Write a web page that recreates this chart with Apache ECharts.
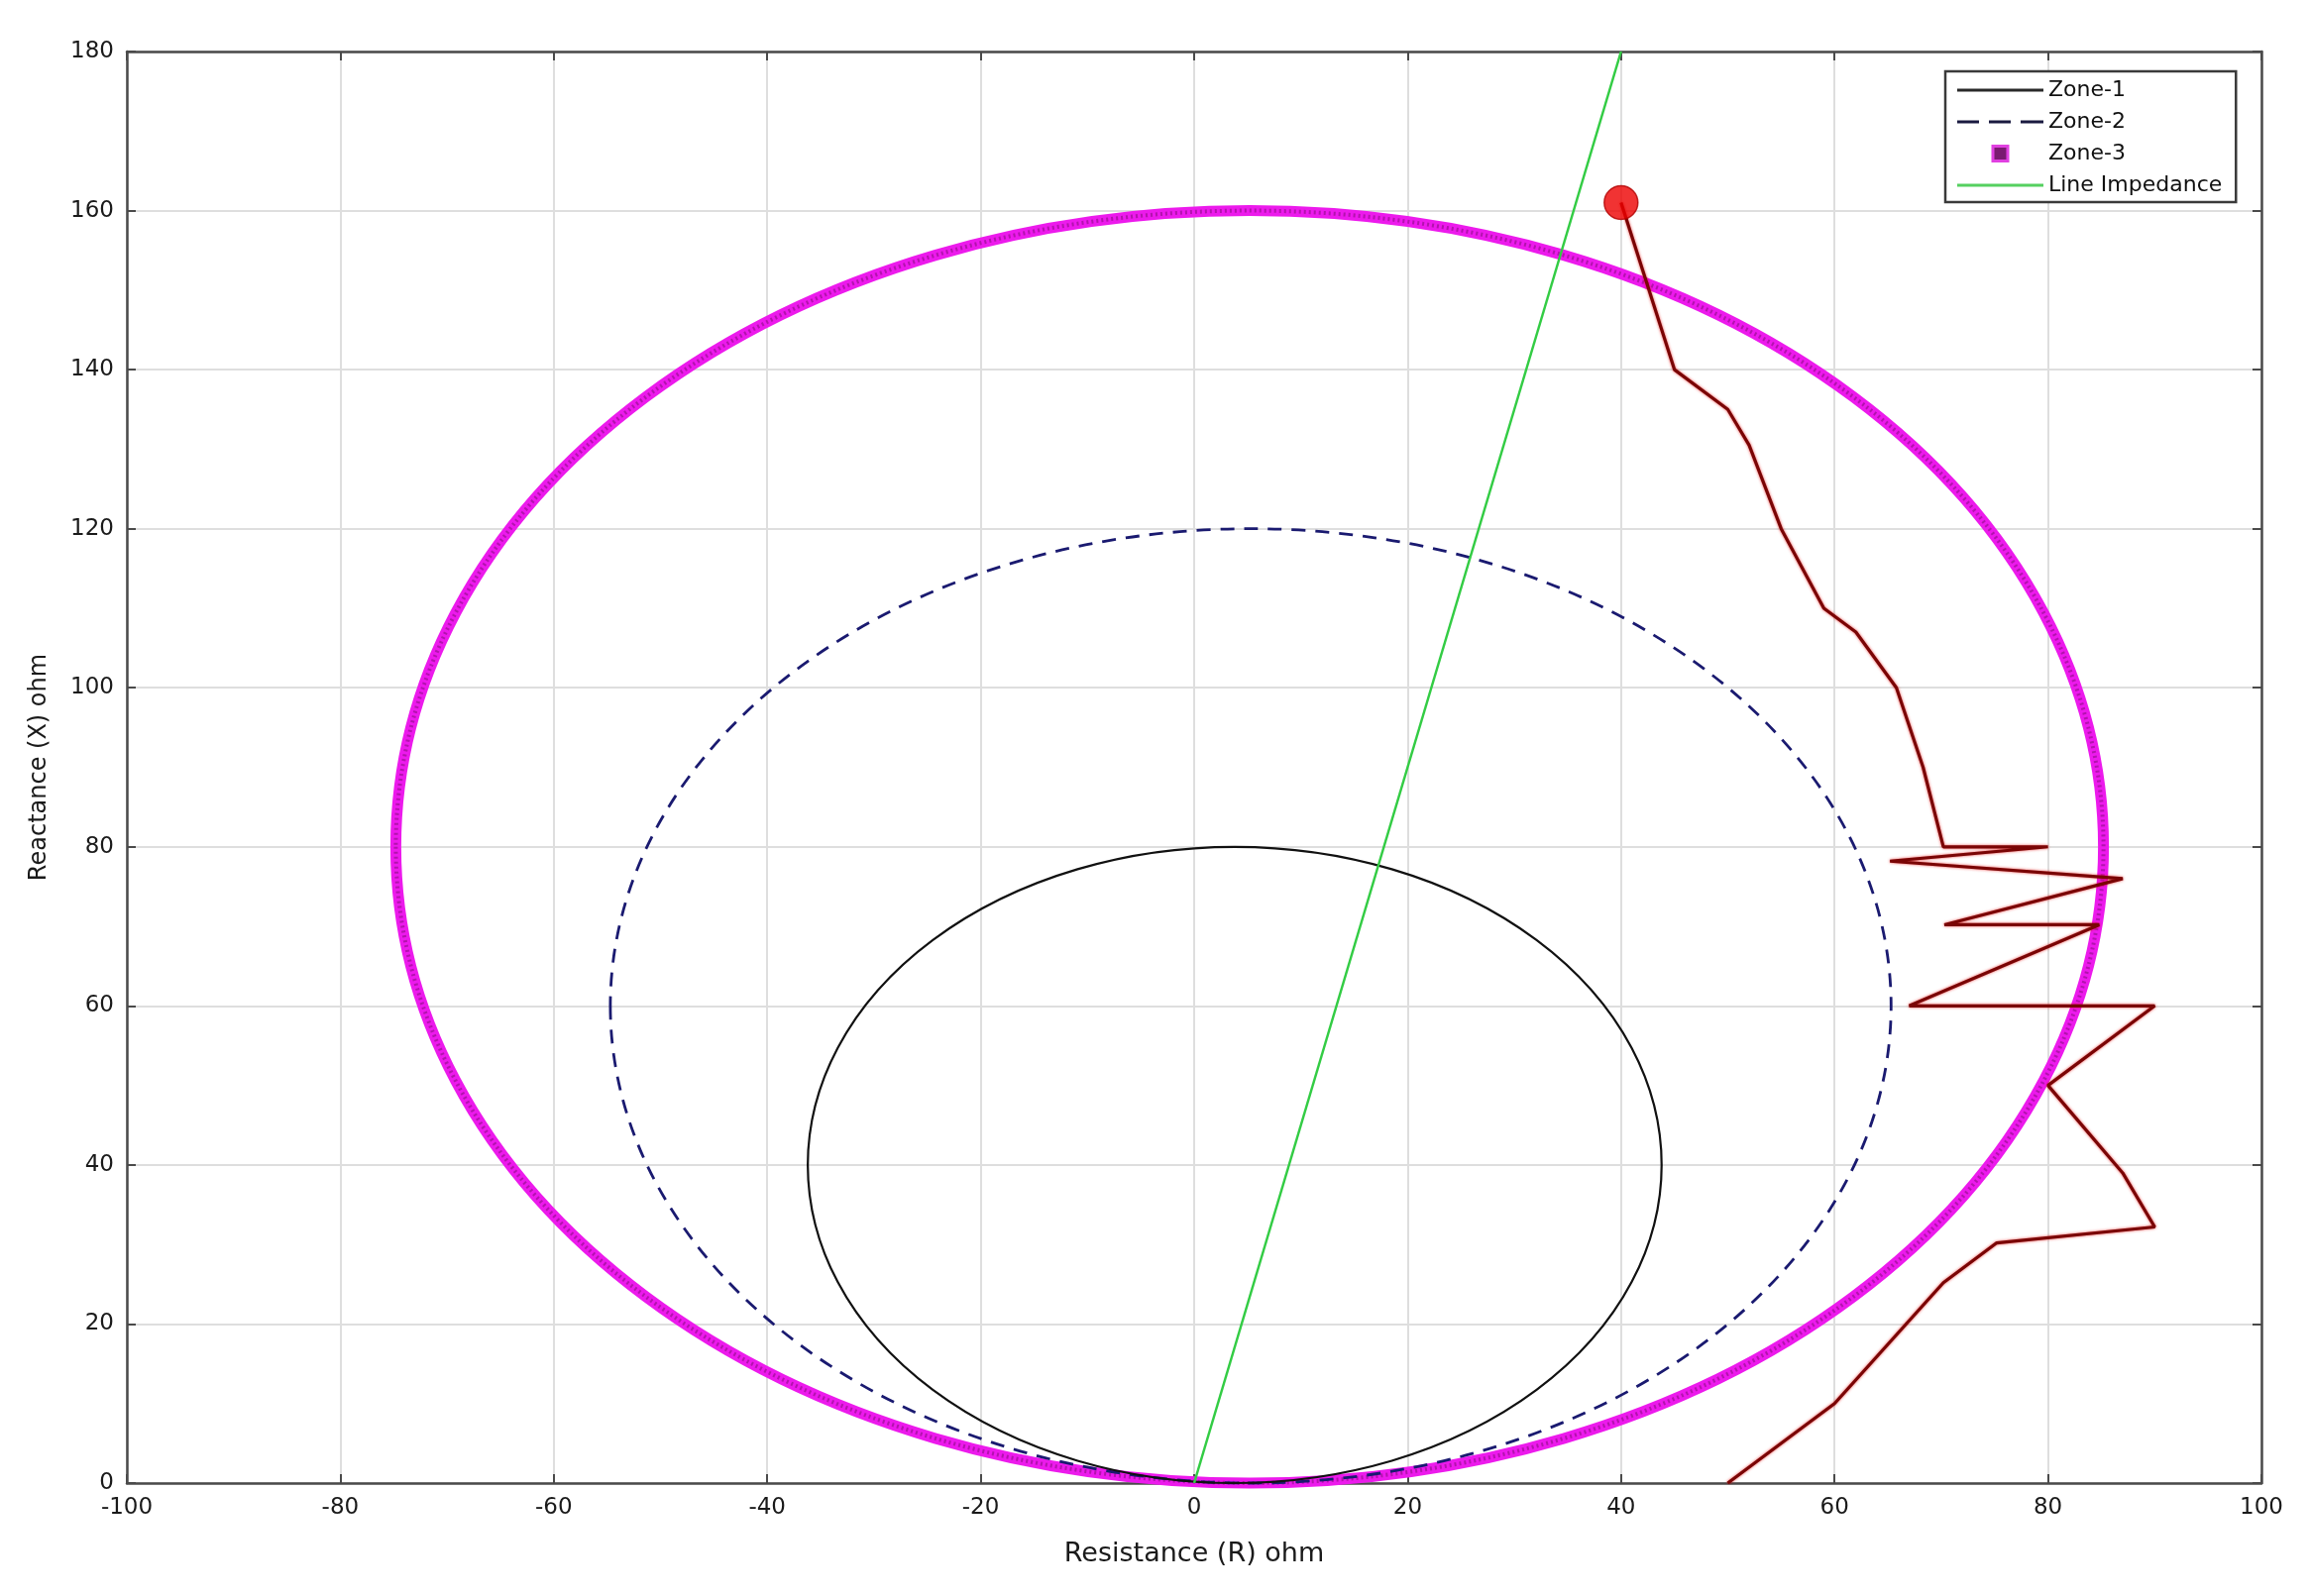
<!DOCTYPE html>
<html>
<head>
<meta charset="utf-8">
<script src="https://cdn.jsdelivr.net/npm/echarts@6/dist/echarts.min.js"></script>
<style>html,body{margin:0;padding:0;background:#fff}#c{width:2331px;height:1611px}</style>
</head>
<body>
<div id="c"></div>
<script>
// Mho zones: [centerR, centerX, radius] (ohm)
const zone1 = [[3.8, 40, 40]];
const zone2 = [[5.3, 60, 60]];
const zone3 = [[5.2, 80, 80]];
// Line impedance (R, X)
const lineImpedance = [[0, 0], [40, 180]];
// Impedance trajectory (R, X)
const trajectory = [
  [40, 161], [45, 140], [50, 135], [52, 130.5], [55, 120], [59, 110], [62, 107], [65.8, 100],
  [68.3, 90], [70.2, 80], [80, 80], [65.2, 78.2], [87, 76], [70.3, 70.2], [84.8, 70.2],
  [67, 60], [90, 60], [80, 50], [87, 39], [90, 32.2], [75.2, 30.2], [70.2, 25.2], [60, 10], [50, 0]
];
const startPoint = [[40, 161]];
const xTicks = { min: -100, max: 100, interval: 20 };
const yTicks = { min: 0, max: 180, interval: 20 };
const legendNames = ['Zone-1', 'Zone-2', 'Zone-3', 'Line Impedance'];

const FONT = '"DejaVu Sans", "Liberation Sans", sans-serif';
const OFF = [[-500, -500]]; // off-scale point so legend proxies draw nothing

function ellipseItem(stroke, width, dash, opacity) {
  return function (params, api) {
    const c = api.coord([api.value(0), api.value(1)]);
    const s = api.size([api.value(2), api.value(2)]);
    const rx = s[0], ry = s[1];
    const cx = c[0], cy = c[1];
    const d = 'M' + (cx - rx) + ' ' + cy +
      ' A' + rx + ' ' + ry + ' 0 1 0 ' + (cx + rx) + ' ' + cy +
      ' A' + rx + ' ' + ry + ' 0 1 0 ' + (cx - rx) + ' ' + cy + ' Z';
    return {
      type: 'path',
      shape: { pathData: d },
      style: { fill: null, stroke: stroke, lineWidth: width, lineDash: dash || null, opacity: opacity == null ? 1 : opacity }
    };
  };
}

const ICON_SOLID = 'path://M0,0H87V3H0Z';
const ICON_DASH = 'path://M0,0H22V3H0Z M32,0H54V3H32Z M64,0H87V3H64Z';
const ICON_SQ = 'path://M0,0H10V10H0Z';

const chart = echarts.init(document.getElementById('c'), null, { renderer: 'canvas' });
const axisCommon = {
  axisLine: { show: true, onZero: false, lineStyle: { color: '#4a4a4a', width: 2.5 } },
  axisTick: { show: true, inside: true, length: 9, lineStyle: { color: '#4a4a4a', width: 2 } },
};
chart.setOption({
  animation: false,
  backgroundColor: '#ffffff',
  grid: { left: 128, right: 49, top: 52, bottom: 114, show: false },
  legend: {
    left: 1963, top: 72, orient: 'vertical',
    backgroundColor: '#ffffff', borderColor: '#3a3a3a', borderWidth: 2.5,
    padding: [8, 14, 6, 12], itemGap: 10, itemWidth: 87, itemHeight: 15,
    textStyle: { fontFamily: FONT, fontSize: 22, color: '#111' },
    data: [
      { name: legendNames[0], icon: ICON_SOLID, itemStyle: { color: '#2a2a2a' } },
      { name: legendNames[1], icon: ICON_DASH, itemStyle: { color: '#1a1a40' } },
      { name: legendNames[2], icon: ICON_SQ, itemStyle: { color: '#7a1a70', borderColor: '#e040e0', borderWidth: 3 } },
      { name: legendNames[3], icon: ICON_SOLID, itemStyle: { color: '#55d060' } }
    ]
  },
  xAxis: [{
    type: 'value', min: xTicks.min, max: xTicks.max, interval: xTicks.interval,
    name: 'Resistance (R) ohm', nameLocation: 'middle', nameGap: 58,
    nameTextStyle: { fontFamily: FONT, fontSize: 27, color: '#1a1a1a' },
    axisLabel: { fontFamily: FONT, fontSize: 23, color: '#1a1a1a', margin: 14 },
    splitLine: { show: true, lineStyle: { color: '#dedede', width: 2 } },
    ...axisCommon
  }, {
    type: 'value', position: 'top', min: xTicks.min, max: xTicks.max, interval: xTicks.interval,
    axisLabel: { show: false }, splitLine: { show: false }, ...axisCommon
  }],
  yAxis: [{
    type: 'value', min: yTicks.min, max: yTicks.max, interval: yTicks.interval,
    name: 'Reactance (X) ohm', nameLocation: 'middle', nameGap: 76,
    nameTextStyle: { fontFamily: FONT, fontSize: 24, color: '#1a1a1a' },
    axisLabel: { fontFamily: FONT, fontSize: 23, color: '#1a1a1a', margin: 13 },
    splitLine: { show: true, lineStyle: { color: '#dedede', width: 2 } },
    ...axisCommon
  }, {
    type: 'value', position: 'right', min: yTicks.min, max: yTicks.max, interval: yTicks.interval,
    axisLabel: { show: false }, splitLine: { show: false }, ...axisCommon
  }],
  series: [
    // legend proxies
    { name: legendNames[0], type: 'line', data: OFF, symbol: 'none', color: '#2a2a2a' },
    { name: legendNames[1], type: 'line', data: OFF, symbol: 'none', color: '#1a1a40' },
    { name: legendNames[2], type: 'line', data: OFF, symbol: 'none', color: '#7a1a70' },
    { name: legendNames[3], type: 'line', data: OFF, symbol: 'none', color: '#55d060' },
    // circles
    { name: 'z3a', type: 'custom', data: zone3, renderItem: ellipseItem('#ec1aec', 11), silent: true, z: 3 },
    { name: 'z3b', type: 'custom', data: zone3, renderItem: ellipseItem('#a0109a', 4, [2, 3], 0.75), silent: true, z: 3 },
    { name: 'z2', type: 'custom', data: zone2, renderItem: ellipseItem('#1a1a70', 2.8, [14, 10]), silent: true, z: 4 },
    { name: 'z1', type: 'custom', data: zone1, renderItem: ellipseItem('#111111', 2.2), silent: true, z: 4 },
    { name: 'lineImp', type: 'line', data: lineImpedance, symbol: 'none', color: '#33cc44',
      lineStyle: { color: '#33cc44', width: 2.5 }, z: 5 },
    { name: 'traj', type: 'line', data: trajectory, symbol: 'none', color: '#7a0505',
      lineStyle: { color: '#7a0505', width: 3.2, shadowColor: 'rgba(230,0,0,0.7)', shadowBlur: 3 }, z: 6 },
    { name: 'start', type: 'scatter', data: startPoint, symbol: 'circle', symbolSize: 34,
      itemStyle: { color: '#ee0000', borderColor: '#b00000', borderWidth: 1.5 }, z: 7 }
  ]
});
</script>
</body>
</html>
